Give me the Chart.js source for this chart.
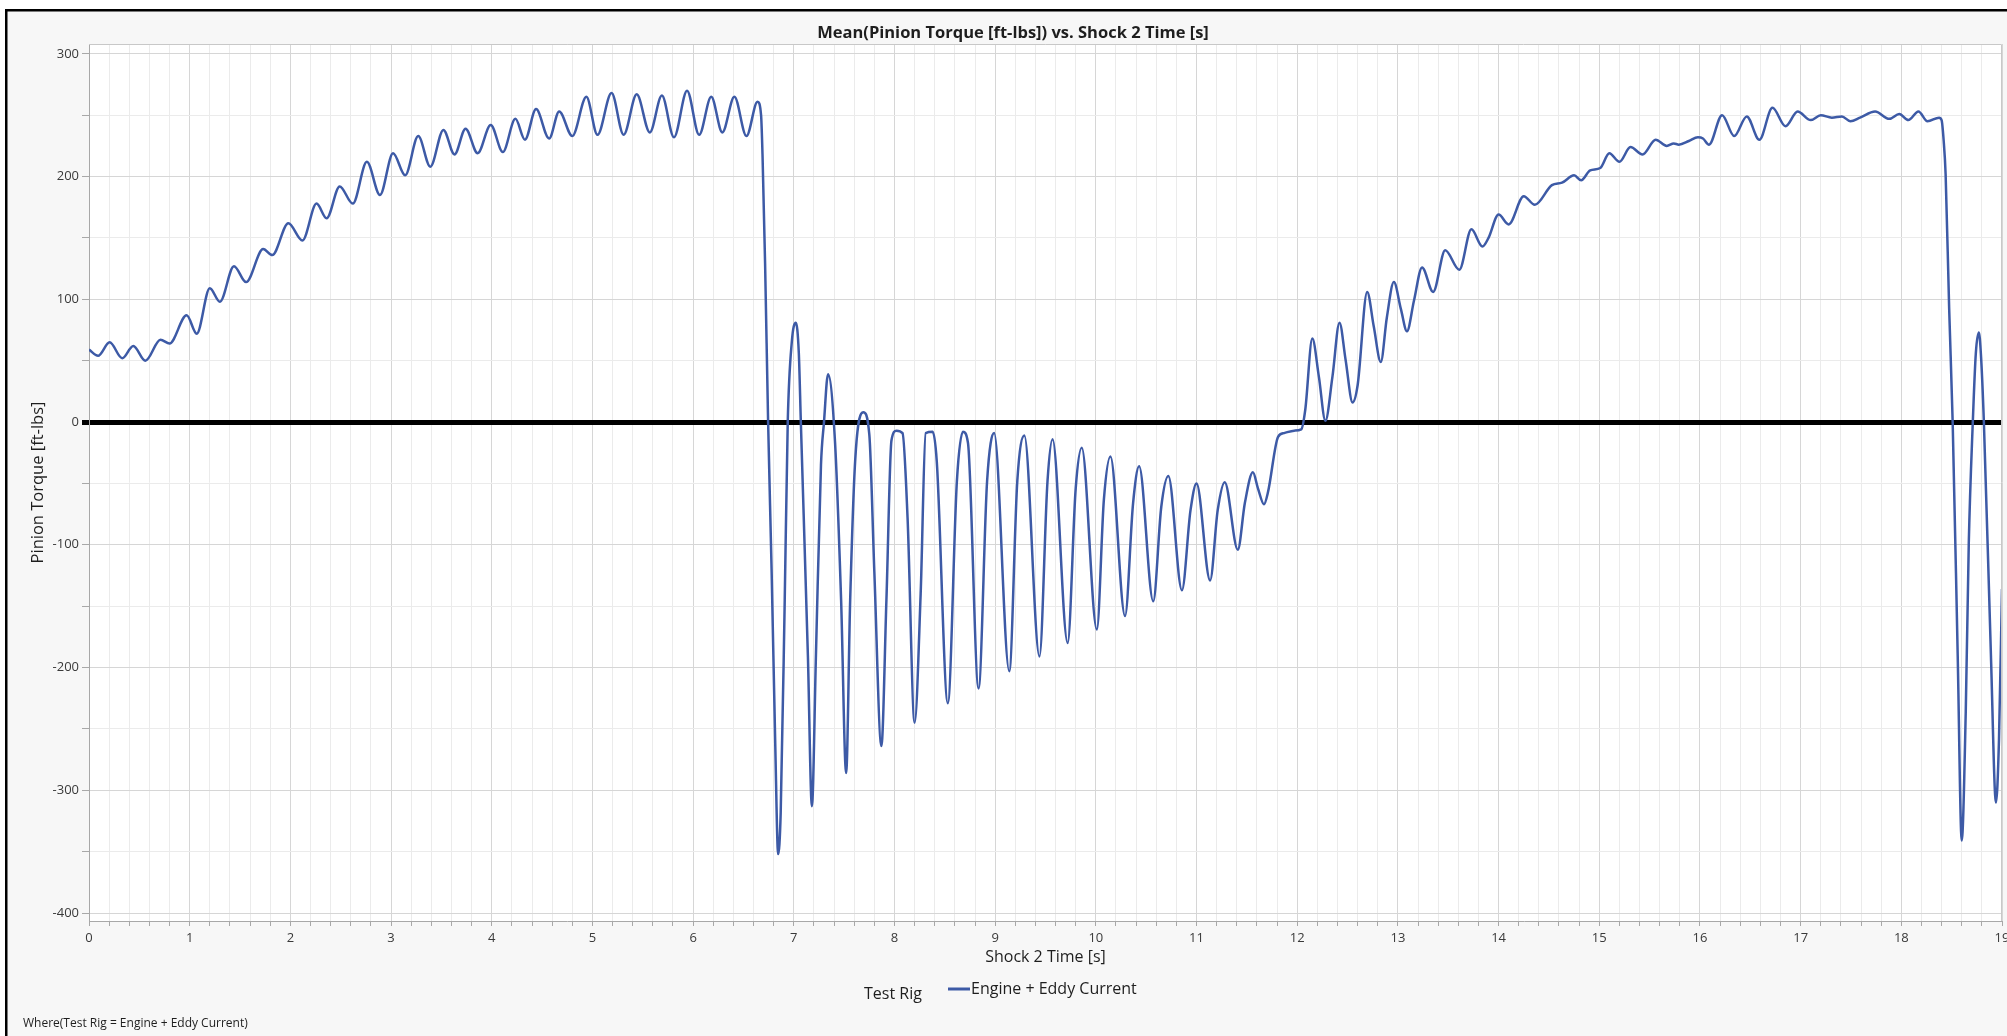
<!DOCTYPE html>
<html>
<head>
<meta charset="utf-8">
<script src="https://cdn.jsdelivr.net/npm/chart.js@4.4.1/dist/chart.umd.min.js"></script>
<style>
  html, body { margin: 0; padding: 0; background: #fff; }
  #torqueChart { display: block; }
</style>
</head>
<body>
<canvas id="torqueChart" width="2007" height="1036"></canvas>
<script>
var chartTitle  = 'Mean(Pinion Torque [ft-lbs]) vs. Shock 2 Time [s]';
var xAxisTitle  = 'Shock 2 Time [s]';
var yAxisTitle  = 'Pinion Torque [ft-lbs]';
var legendTitle = 'Test Rig';
var seriesName  = 'Engine + Eddy Current';
var footerText  = 'Where(Test Rig = Engine + Eddy Current)';

// time [s]
var timeSec = [
  0.00, 0.09, 0.205, 0.33, 0.44, 0.56, 0.71, 0.80, 0.97, 1.07,
  1.20, 1.30, 1.44, 1.56, 1.73, 1.82, 1.98, 2.12, 2.26, 2.36,
  2.49, 2.62, 2.76, 2.89, 3.02, 3.14, 3.27, 3.39, 3.52, 3.63,
  3.74, 3.86, 3.99, 4.11, 4.235, 4.33, 4.44, 4.57, 4.67, 4.80,
  4.94, 5.05, 5.19, 5.31, 5.44, 5.57, 5.69, 5.81, 5.94, 6.06,
  6.18, 6.29, 6.41, 6.53, 6.64, 6.675, 6.69, 6.715, 6.745, 6.78,
  6.815, 6.845, 6.87, 6.91, 6.94, 6.98, 7.02, 7.05, 7.07, 7.14,
  7.18, 7.22, 7.27, 7.30, 7.34, 7.41, 7.47, 7.52, 7.56, 7.61,
  7.69, 7.75, 7.80, 7.87, 7.92, 7.97, 8.02, 8.08, 8.13, 8.20,
  8.26, 8.31, 8.38, 8.42, 8.53, 8.62, 8.68, 8.73, 8.835, 8.92,
  8.99, 9.14, 9.22, 9.29, 9.44, 9.52, 9.57, 9.72, 9.80, 9.86,
  10.01, 10.08, 10.145, 10.29, 10.37, 10.43, 10.57, 10.65, 10.72, 10.855,
  10.94, 11.00, 11.135, 11.21, 11.28, 11.41, 11.48, 11.56, 11.61, 11.67,
  11.71, 11.81, 11.87, 11.97, 12.04, 12.08, 12.15, 12.215, 12.28, 12.35,
  12.42, 12.48, 12.55, 12.60, 12.695, 12.76, 12.83, 12.89, 12.96, 13.03,
  13.09, 13.16, 13.24, 13.35, 13.47, 13.61, 13.73, 13.84, 13.90, 14.00,
  14.10, 14.25, 14.36, 14.53, 14.63, 14.75, 14.82, 14.91, 15.01, 15.10,
  15.20, 15.31, 15.43, 15.56, 15.67, 15.74, 15.79, 15.89, 15.98, 16.03,
  16.09, 16.22, 16.34, 16.465, 16.59, 16.72, 16.85, 16.97, 17.10, 17.20,
  17.31, 17.41, 17.495, 17.59, 17.74, 17.88, 17.98, 18.07, 18.17, 18.26,
  18.375, 18.40, 18.42, 18.44, 18.475, 18.51, 18.56, 18.60, 18.64, 18.67,
  18.71, 18.74, 18.77, 18.79, 18.82, 18.89, 18.94, 18.97, 19.00
];

// mean pinion torque [ft-lbs]
var torque = [
  59, 54, 65, 52, 62, 50, 67, 64, 87, 72,
  109, 98, 127, 114, 141, 136, 162, 148, 178, 166,
  192, 178, 212, 185, 219, 201, 233, 208, 238, 218,
  239, 219, 242, 220, 247, 230, 255, 231, 253, 233,
  265, 234, 268, 234, 267, 236, 266, 232, 270, 234,
  265, 236, 265, 233, 261, 250, 216, 129, 0, -122,
  -259, -352, -318, -145, 0, 65, 81, 56, 0, -190,
  -313, -190, -35, 0, 39, -17, -145, -286, -145, -31,
  8, -10, -122, -264, -145, -15, -7, -9, -78, -245,
  -140, -9, -8, -32, -229, -48, -8, -17, -217, -48,
  -9, -203, -48, -11, -191, -48, -14, -180, -54, -21,
  -169, -63, -28, -158, -66, -36, -146, -69, -44, -137,
  -72, -50, -129, -72, -49, -104, -66, -41, -54, -67,
  -57, -12, -9, -7, -6, 10, 68, 37, 1, 37,
  81, 51, 16, 30, 106, 78, 49, 85, 114, 92,
  74, 99, 126, 106, 140, 124, 157, 143, 150, 169,
  161, 184, 177, 193, 195, 201, 197, 205, 207, 219,
  212, 224, 218, 230, 225, 227, 226, 229, 232, 231,
  226, 250, 233, 249, 230, 256, 241, 253, 246, 250,
  248, 249, 245, 248, 253, 247, 251, 246, 253, 245,
  248, 246, 230, 202, 93, 0, -190, -341, -236, -99,
  0, 56, 73, 56, 0, -190, -310, -259, -136
];

var lineBlue   = '#3d5aa6';
var gridMajor  = '#d6d6d6';
var gridMinor  = '#ebebeb';
var fontFamily = "'Open Sans', 'Noto Sans', sans-serif";

Chart.defaults.font.family = fontFamily;
Chart.defaults.color = '#3a3a3a';

function isWhole(v, step){
    var r = v / step;
    return Math.abs(r - Math.round(r)) < 1e-6;
}

// background, frame, title, legend and footer
var framePlugin = {
    id: 'frame',
    beforeDraw: function(chart){
        var ctx = chart.ctx;
        var a = chart.chartArea;
        ctx.save();
        ctx.fillStyle = '#ffffff';
        ctx.fillRect(0, 0, chart.width, chart.height);
        ctx.fillStyle = '#f7f7f7';
        ctx.fillRect(7, 11, chart.width, chart.height);
        ctx.fillStyle = '#000000';
        ctx.fillRect(5, 9, chart.width, 2.5);
        ctx.fillRect(5, 9, 2.5, chart.height);
        ctx.fillStyle = '#ffffff';
        ctx.fillRect(a.left, a.top, a.right - a.left, a.bottom - a.top);
        ctx.restore();
    },
    afterDraw: function(chart){
        var ctx = chart.ctx;
        var a = chart.chartArea;
        ctx.save();
        ctx.strokeStyle = '#c8c8c8';
        ctx.lineWidth = 1;
        ctx.beginPath();
        ctx.moveTo(a.left, a.top + 0.5);
        ctx.lineTo(a.right - 0.5, a.top + 0.5);
        ctx.lineTo(a.right - 0.5, a.bottom);
        ctx.stroke();

        ctx.fillStyle = '#1e1e1e';
        ctx.textBaseline = 'middle';
        ctx.textAlign = 'center';
        ctx.font = 'bold 16.5px ' + fontFamily;
        ctx.fillText(chartTitle, 1013, 33);

        ctx.textAlign = 'left';
        ctx.font = '16px ' + fontFamily;
        ctx.fillText(legendTitle, 864, 994);
        ctx.fillText(seriesName, 971, 989);
        ctx.strokeStyle = lineBlue;
        ctx.lineWidth = 3;
        ctx.beginPath();
        ctx.moveTo(948, 989);
        ctx.lineTo(970, 989);
        ctx.stroke();

        ctx.font = '12px ' + fontFamily;
        ctx.fillText(footerText, 23, 1024);
        ctx.restore();
    }
};

var points = timeSec.map(function(t, i){ return {x: t, y: torque[i]}; });

var ctx = document.getElementById('torqueChart').getContext('2d');
var torqueChart = new Chart(ctx, {
    type: 'line',
    data: {
        datasets: [{
            label: seriesName,
            data: points,
            borderColor: lineBlue,
            borderWidth: 2.5,
            pointRadius: 0,
            fill: false,
            cubicInterpolationMode: 'monotone'
        }]
    },
    options: {
        responsive: false,
        animation: false,
        devicePixelRatio: 1,
        layout: { padding: { left: 0, top: 44, right: 5, bottom: 62 } },
        plugins: {
            legend: { display: false },
            title: { display: false },
            tooltip: { enabled: false }
        },
        scales: {
            x: {
                type: 'linear',
                min: 0,
                max: 19,
                border: { color: '#a8a8a8', width: 1 },
                grid: {
                    color: function(c){ return isWhole(c.tick.value, 1) ? gridMajor : gridMinor; },
                    tickColor: '#a8a8a8',
                    tickLength: 5
                },
                ticks: {
                    stepSize: 0.2,
                    autoSkip: false,
                    maxRotation: 0,
                    padding: 4,
                    font: { size: 13 },
                    callback: function(v){ return isWhole(v, 1) ? String(Math.round(v)) : ''; }
                },
                title: {
                    display: true,
                    text: xAxisTitle,
                    color: '#1e1e1e',
                    font: { size: 16 },
                    padding: { top: 0, bottom: 7 }
                },
                afterFit: function(scale){
                    scale.height = 53;
                    scale.paddingLeft = 0;
                    scale.paddingRight = 0;
                }
            },
            y: {
                type: 'linear',
                min: -406.5,
                max: 308,
                border: { color: '#a8a8a8', width: 1 },
                grid: {
                    color: function(c){
                        if (c.tick.value === 0) return '#000000';
                        return isWhole(c.tick.value, 100) ? gridMajor : gridMinor;
                    },
                    lineWidth: function(c){ return c.tick.value === 0 ? 5 : 1; },
                    tickColor: function(c){ return c.tick.value === 0 ? '#000000' : '#a8a8a8'; },
                    tickWidth: function(c){ return c.tick.value === 0 ? 5 : 1; },
                    tickLength: 7
                },
                ticks: {
                    stepSize: 50,
                    includeBounds: false,
                    autoSkip: false,
                    padding: 3,
                    font: { size: 13 },
                    callback: function(v){ return isWhole(v, 100) ? String(v) : ''; }
                },
                title: {
                    display: true,
                    text: yAxisTitle,
                    color: '#1e1e1e',
                    font: { size: 16.5 },
                    padding: { top: 28, bottom: 0 }
                },
                afterFit: function(scale){
                    scale.width = 89;
                    scale.paddingTop = 0;
                    scale.paddingBottom = 0;
                }
            }
        }
    },
    plugins: [framePlugin]
});
</script>
</body>
</html>
